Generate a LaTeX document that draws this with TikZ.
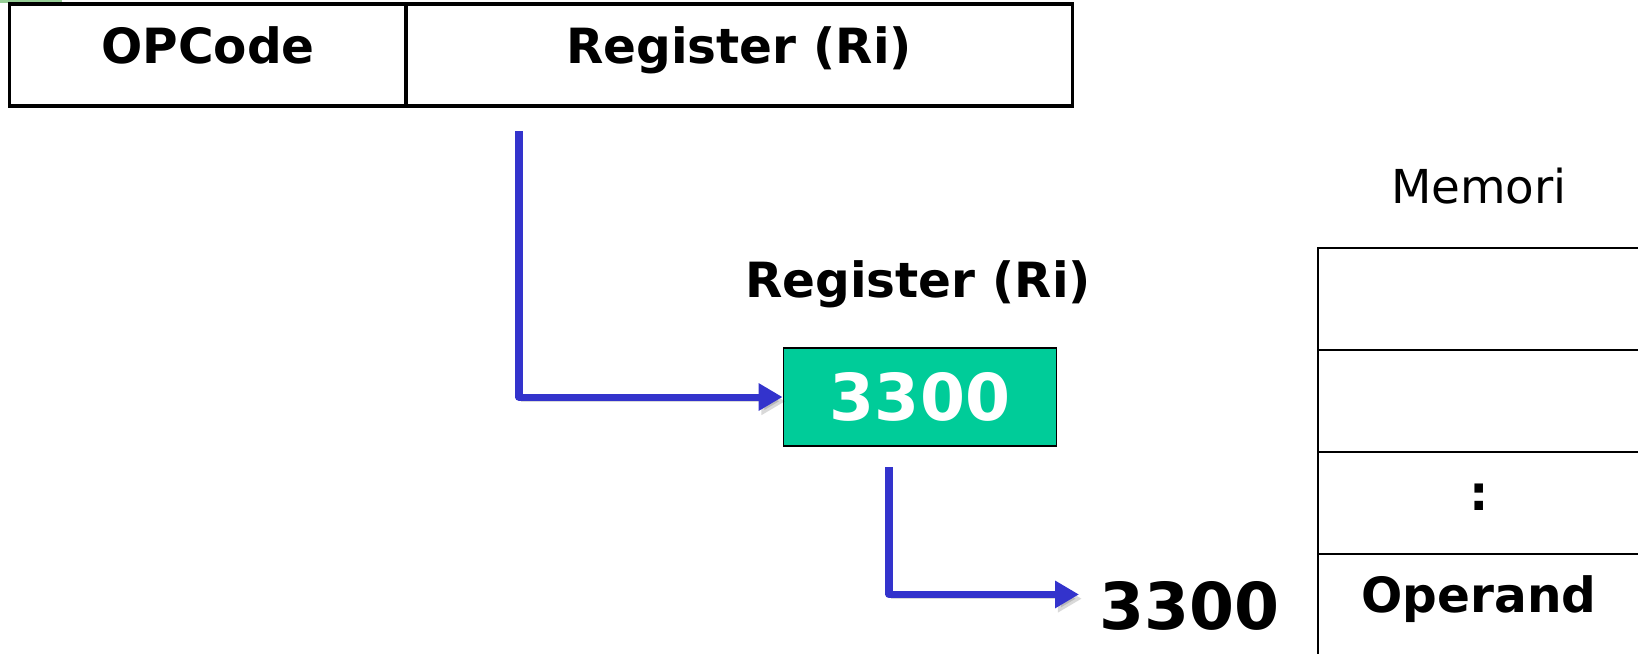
\documentclass[tikz,border=0pt]{standalone}
\usepackage{fontspec}
\setmainfont{DejaVu Sans}
\usetikzlibrary{arrows.meta}
\definecolor{regteal}{RGB}{0,204,153}
\definecolor{ptrblue}{RGB}{51,51,204}
\definecolor{tabgreen}{RGB}{150,206,150}

\begin{document}
\begin{tikzpicture}[x=0.01cm,y=-0.01cm,
    txt/.style={font=\fontsize{13.8}{16}\selectfont\bfseries},
    big/.style={font=\fontsize{18.4}{20}\selectfont\bfseries},
    cell/.style={draw,line width=0.9pt,inner sep=0pt,txt,text height=0.38cm,text depth=0.22cm,minimum height=1.02cm},
    memcell/.style={draw,line width=0.8pt,minimum width=3.22cm,minimum height=1.02cm,inner sep=0pt,txt,
        text height=0.36cm,text depth=0.22cm},
    ptr/.style={draw=ptrblue,line width=2pt,line join=round,
        preaction={draw=black,opacity=0.15,transform canvas={shift={(0.8pt,-1.2pt)}}},
        -{Triangle[length=6.8pt,width=7.4pt]}}]
    % page in pixel units
    \clip (0,0) rectangle (1638,653);
    \fill[tabgreen] (0,0) rectangle (62,3);

    % instruction word
    \node[cell,minimum width=3.96cm] (opc) at (208,55) {OPCode};
    \node[cell,minimum width=6.66cm] (ri) at (739,55) {Register (Ri)};

    % register Ri
    \node[txt,anchor=base] (rlbl) at (918,297) {Register (Ri)};
    \node[draw,line width=0.5pt,fill=regteal,text=white,big,minimum width=2.73cm,
          minimum height=0.98cm,inner sep=0pt] (val) at (920,397) {3300};

    % memory
    \node[font=\fontsize{13.3}{16}\selectfont,anchor=base] (mlbl) at (1479,203) {Memori};
    \foreach \i/\t in {0/,1/,2/:,3/Operand}
        \node[memcell] (m\i) at (1479,299+102*\i) {\t};
    \node[big,anchor=base west,inner xsep=0.2cm,inner ysep=0pt] (addr) at (1079,629) {3300};

    % pointers
    \coordinate (p1) at (519,131);
    \coordinate (p2) at (889,467);
    \draw[ptr] (p1) |- (val.west);
    \draw[ptr] (p2) |- ([yshift=0.11cm]addr.west);
\end{tikzpicture}
\end{document}
